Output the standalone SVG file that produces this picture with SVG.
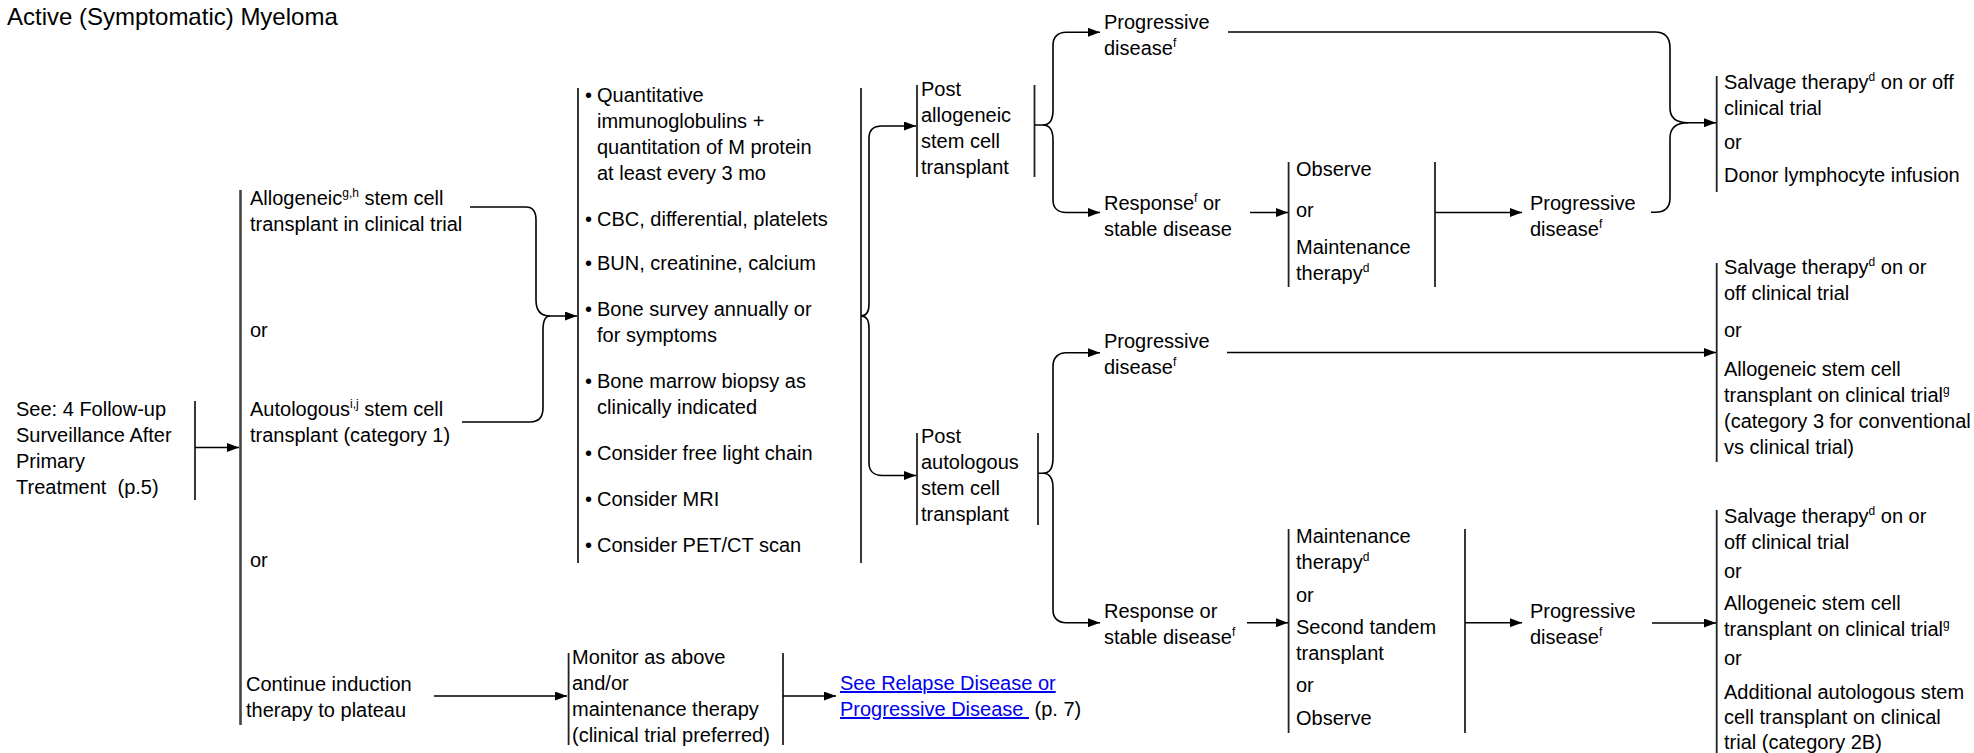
<svg xmlns="http://www.w3.org/2000/svg" width="1974" height="753" viewBox="0 0 1974 753">
<defs>
<style>
.t{font-family:"Liberation Sans",Arial,sans-serif;font-size:20px;fill:#000}
.title{font-family:"Liberation Sans",Arial,sans-serif;font-size:24px;fill:#000}
.sup{font-size:12px}
.bar{stroke:#222;stroke-width:1.8;fill:none}
.bigbar{stroke:#444;stroke-width:2.6;fill:none}
.c{stroke:#000;stroke-width:1.6;fill:none}
.a{stroke:#000;stroke-width:1.6;fill:none;marker-end:url(#ah)}
.link{fill:#0000EE;text-decoration:underline}
</style>
<marker id="ah" viewBox="0 0 12 9" refX="12" refY="4.5" markerWidth="12" markerHeight="9" markerUnits="userSpaceOnUse" orient="auto">
<path d="M0,0 L12,4.5 L0,9 z" fill="#000"/>
</marker>
</defs>
<rect width="1974" height="753" fill="#fff"/>

<g id="title"><text class="title" x="7" y="25">Active (Symptomatic) Myeloma</text></g>

<g id="n_see">
<text class="t"><tspan x="16" y="416">See: 4 Follow-up</tspan><tspan x="16" y="442">Surveillance After</tspan><tspan x="16" y="468">Primary</tspan><tspan x="16" y="494" xml:space="preserve">Treatment  (p.5)</tspan></text>
<line class="bar" x1="195" y1="401" x2="195" y2="500"/>
</g>

<g id="n_options">
<line class="bigbar" x1="240.5" y1="190" x2="240.5" y2="725"/>
<text class="t"><tspan x="250" y="205">Allogeneic<tspan class="sup" dy="-8">g,h</tspan><tspan dy="8"> stem cell</tspan></tspan><tspan x="250" y="231">transplant in clinical trial</tspan></text>
<text class="t" x="250" y="337">or</text>
<text class="t"><tspan x="250" y="416">Autologous<tspan class="sup" dy="-8">i,j</tspan><tspan dy="8"> stem cell</tspan></tspan><tspan x="250" y="442">transplant (category 1)</tspan></text>
<text class="t" x="250" y="567">or</text>
<text class="t"><tspan x="246" y="691">Continue induction</tspan><tspan x="246" y="717">therapy to plateau</tspan></text>
</g>

<g id="n_followup">
<line class="bar" x1="578" y1="88" x2="578" y2="563"/>
<line class="bar" x1="861" y1="88" x2="861" y2="563"/>
<text class="t">
<tspan x="585" y="102">•</tspan><tspan x="597" y="102">Quantitative</tspan>
<tspan x="597" y="128">immunoglobulins +</tspan>
<tspan x="597" y="154">quantitation of M protein</tspan>
<tspan x="597" y="180">at least every 3 mo</tspan>
<tspan x="585" y="226">•</tspan><tspan x="597" y="226">CBC, differential, platelets</tspan>
<tspan x="585" y="270">•</tspan><tspan x="597" y="270">BUN, creatinine, calcium</tspan>
<tspan x="585" y="316">•</tspan><tspan x="597" y="316">Bone survey annually or</tspan>
<tspan x="597" y="342">for symptoms</tspan>
<tspan x="585" y="388">•</tspan><tspan x="597" y="388">Bone marrow biopsy as</tspan>
<tspan x="597" y="414">clinically indicated</tspan>
<tspan x="585" y="460">•</tspan><tspan x="597" y="460">Consider free light chain</tspan>
<tspan x="585" y="506">•</tspan><tspan x="597" y="506">Consider MRI</tspan>
<tspan x="585" y="552">•</tspan><tspan x="597" y="552">Consider PET/CT scan</tspan>
</text>
</g>

<g id="n_post_allo">
<line class="bar" x1="917" y1="85" x2="917" y2="177"/>
<line class="bar" x1="1034.5" y1="85" x2="1034.5" y2="177"/>
<text class="t"><tspan x="921" y="96">Post</tspan><tspan x="921" y="122">allogeneic</tspan><tspan x="921" y="148">stem cell</tspan><tspan x="921" y="174">transplant</tspan></text>
</g>

<g id="n_prog1">
<text class="t"><tspan x="1104" y="29">Progressive</tspan><tspan x="1104" y="55">disease<tspan class="sup" dy="-8">f</tspan></tspan></text>
</g>

<g id="n_resp1">
<text class="t"><tspan x="1104" y="210">Response<tspan class="sup" dy="-8">f</tspan><tspan dy="8"> or</tspan></tspan><tspan x="1104" y="236">stable disease</tspan></text>
</g>

<g id="n_obs1">
<line class="bar" x1="1288.6" y1="162" x2="1288.6" y2="287"/>
<line class="bar" x1="1435" y1="162" x2="1435" y2="287"/>
<text class="t"><tspan x="1296" y="176">Observe</tspan><tspan x="1296" y="217">or</tspan><tspan x="1296" y="254">Maintenance</tspan><tspan x="1296" y="280">therapy<tspan class="sup" dy="-8">d</tspan></tspan></text>
</g>

<g id="n_prog2">
<text class="t"><tspan x="1530" y="210">Progressive</tspan><tspan x="1530" y="236">disease<tspan class="sup" dy="-8">f</tspan></tspan></text>
</g>

<g id="n_salv1">
<line class="bar" x1="1716.7" y1="76" x2="1716.7" y2="192"/>
<text class="t"><tspan x="1724" y="89">Salvage therapy<tspan class="sup" dy="-8">d</tspan><tspan dy="8"> on or off</tspan></tspan><tspan x="1724" y="115">clinical trial</tspan><tspan x="1724" y="149">or</tspan><tspan x="1724" y="182">Donor lymphocyte infusion</tspan></text>
</g>

<g id="n_post_auto">
<line class="bar" x1="917" y1="433" x2="917" y2="525"/>
<line class="bar" x1="1038" y1="433" x2="1038" y2="525"/>
<text class="t"><tspan x="921" y="443">Post</tspan><tspan x="921" y="469">autologous</tspan><tspan x="921" y="495">stem cell</tspan><tspan x="921" y="521">transplant</tspan></text>
</g>

<g id="n_prog3">
<text class="t"><tspan x="1104" y="348">Progressive</tspan><tspan x="1104" y="374">disease<tspan class="sup" dy="-8">f</tspan></tspan></text>
</g>

<g id="n_salv2">
<line class="bar" x1="1716.7" y1="263" x2="1716.7" y2="462"/>
<text class="t"><tspan x="1724" y="274">Salvage therapy<tspan class="sup" dy="-8">d</tspan><tspan dy="8"> on or</tspan></tspan><tspan x="1724" y="300">off clinical trial</tspan><tspan x="1724" y="337">or</tspan><tspan x="1724" y="376">Allogeneic stem cell</tspan><tspan x="1724" y="402">transplant on clinical trial<tspan class="sup" dy="-8">g</tspan></tspan><tspan x="1724" y="428">(category 3 for conventional</tspan><tspan x="1724" y="454">vs clinical trial)</tspan></text>
</g>

<g id="n_resp2">
<text class="t"><tspan x="1104" y="618">Response or</tspan><tspan x="1104" y="644">stable disease<tspan class="sup" dy="-8">f</tspan></tspan></text>
</g>

<g id="n_maint2">
<line class="bar" x1="1288.6" y1="529" x2="1288.6" y2="733"/>
<line class="bar" x1="1465" y1="529" x2="1465" y2="733"/>
<text class="t"><tspan x="1296" y="543">Maintenance</tspan><tspan x="1296" y="569">therapy<tspan class="sup" dy="-8">d</tspan></tspan><tspan x="1296" y="602">or</tspan><tspan x="1296" y="634">Second tandem</tspan><tspan x="1296" y="660">transplant</tspan><tspan x="1296" y="692">or</tspan><tspan x="1296" y="725">Observe</tspan></text>
</g>

<g id="n_prog4">
<text class="t"><tspan x="1530" y="618">Progressive</tspan><tspan x="1530" y="644">disease<tspan class="sup" dy="-8">f</tspan></tspan></text>
</g>

<g id="n_salv3">
<line class="bar" x1="1716.7" y1="510" x2="1716.7" y2="753"/>
<text class="t"><tspan x="1724" y="523">Salvage therapy<tspan class="sup" dy="-8">d</tspan><tspan dy="8"> on or</tspan></tspan><tspan x="1724" y="549">off clinical trial</tspan><tspan x="1724" y="578">or</tspan><tspan x="1724" y="610">Allogeneic stem cell</tspan><tspan x="1724" y="636">transplant on clinical trial<tspan class="sup" dy="-8">g</tspan></tspan><tspan x="1724" y="665">or</tspan><tspan x="1724" y="699">Additional autologous stem</tspan><tspan x="1724" y="724">cell transplant on clinical</tspan><tspan x="1724" y="749">trial (category 2B)</tspan></text>
</g>

<g id="n_monitor">
<line class="bar" x1="568.6" y1="653" x2="568.6" y2="745"/>
<line class="bar" x1="783" y1="653" x2="783" y2="745"/>
<text class="t"><tspan x="572" y="664">Monitor as above</tspan><tspan x="572" y="690">and/or</tspan><tspan x="572" y="716">maintenance therapy</tspan><tspan x="572" y="742">(clinical trial preferred)</tspan></text>
</g>

<g id="n_relapse">
<text class="t" xml:space="preserve"><tspan x="840" y="690" class="link">See Relapse Disease or</tspan><tspan x="840" y="716" class="link">Progressive Disease </tspan><tspan> (p. 7)</tspan></text>
</g>

<g id="connectors">
<path class="a" d="M195,447.5 H239"/>
<path class="a" d="M470,207 H526 C533,207 536,211 536,220 V300 C536,310 540,316 550,316 H577"/>
<path class="c" d="M550,316 C546,316 543,320 543,330 V408 C543,417 539,422 530,422 H462"/>
<path class="a" d="M861,316 C866,316 869,312 869,304 V138 C869,130 874,126 882,126 H916"/>
<path class="a" d="M861,316 C866,316 869,320 869,328 V463 C869,471 874,475.5 882,475.5 H916"/>
<path class="a" d="M1034.5,125 H1043 C1050,125 1053,120 1053,110 V45 C1053,37 1058,32.3 1066,32.3 H1100"/>
<path class="a" d="M1043,125 C1050,125 1053,130 1053,140 V200 C1053,208 1058,212.5 1066,212.5 H1100"/>
<path class="a" d="M1250,212.5 H1288"/>
<path class="a" d="M1435,212.5 H1522"/>
<path class="a" d="M1228,32 H1655 C1665,32 1670,37 1670,48 V108 C1670,118 1676,122.7 1688,122.7 H1716"/>
<path class="c" d="M1688,122.7 C1676,122.7 1670,128 1670,138 V198 C1670,208 1665,212.3 1655,212.3 H1651"/>
<path class="a" d="M1038,473.3 H1043 C1050,473.3 1053,468 1053,458 V366 C1053,358 1058,352.7 1066,352.7 H1100"/>
<path class="a" d="M1043,473.3 C1050,473.3 1053,478 1053,488 V610 C1053,618 1058,622.7 1066,622.7 H1100"/>
<path class="a" d="M1227,352.5 H1716"/>
<path class="a" d="M1247,622.7 H1288"/>
<path class="a" d="M1465,622.7 H1522"/>
<path class="a" d="M1652,623 H1716"/>
<path class="a" d="M434,696 H567"/>
<path class="a" d="M783,696 H836"/>
</g>
</svg>
